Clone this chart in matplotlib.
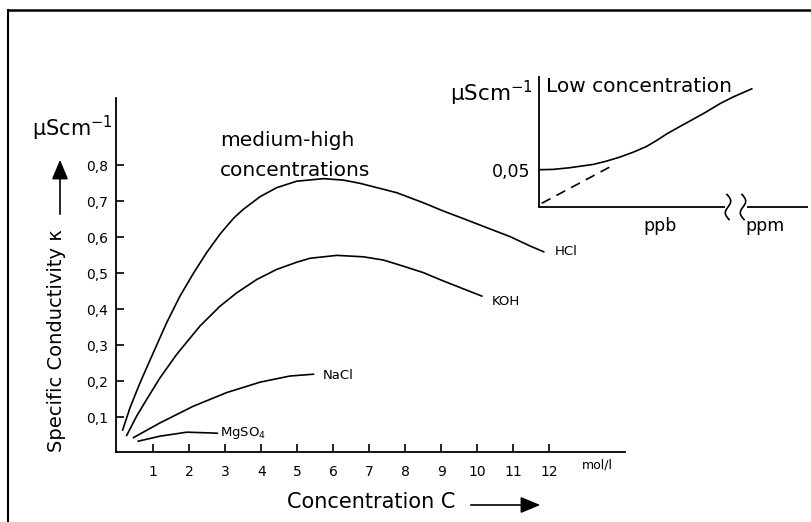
import matplotlib
matplotlib.use("Agg")
import matplotlib.pyplot as plt
import numpy as np
from matplotlib.lines import Line2D

plt.rcParams['font.family'] = ['DejaVu Sans']

# ---- data ----
x_ticks = [1, 2, 3, 4, 5, 6, 7, 8, 9, 10, 11, 12]
y_ticks = [0.1, 0.2, 0.3, 0.4, 0.5, 0.6, 0.7, 0.8]
y_tick_labels = ["0,1", "0,2", "0,3", "0,4", "0,5", "0,6", "0,7", "0,8"]

hcl_c = [0.149, 0.353, 0.631, 1.002, 1.372, 1.743, 2.114, 2.485, 2.855, 3.05, 3.25, 3.504,
         3.968, 4.43, 4.987, 5.728, 6.284, 6.748, 7.767, 8.508, 9.064, 9.62, 10.268,
         10.917, 11.473, 11.85]
hcl_k = [0.065, 0.127, 0.196, 0.280, 0.363, 0.437, 0.500, 0.558, 0.609, 0.632, 0.655, 0.678,
         0.713, 0.738, 0.756, 0.763, 0.759, 0.750, 0.724, 0.696, 0.673, 0.652, 0.627,
         0.602, 0.576, 0.560]

koh_c = [0.26, 0.54, 0.816, 1.187, 1.65, 2.30, 2.855, 3.32, 3.875, 4.43, 4.987, 5.36,
         6.10, 6.84, 7.397, 7.95, 8.508, 9.06, 9.62, 10.13]
koh_k = [0.05, 0.104, 0.15, 0.21, 0.275, 0.354, 0.409, 0.446, 0.483, 0.511, 0.531, 0.542,
         0.55, 0.546, 0.537, 0.52, 0.502, 0.479, 0.457, 0.437]

nacl_c = [0.45, 1.19, 2.11, 3.04, 3.97, 4.80, 5.45]
nacl_k = [0.044, 0.085, 0.131, 0.169, 0.198, 0.215, 0.22]

mgso4_c = [0.58, 1.19, 1.93, 2.58, 2.78]
mgso4_k = [0.034, 0.048, 0.059, 0.057, 0.056]

# inset (arbitrary units: x 0..1 across the axis, y in µS/cm)
low_x = [0.0, 0.053, 0.115, 0.202, 0.252, 0.301, 0.351, 0.400, 0.437, 0.475, 0.524,
         0.574, 0.623, 0.673, 0.722, 0.791]
low_y = [0.0505, 0.0509, 0.0532, 0.0577, 0.0622, 0.0676, 0.0743, 0.082, 0.090, 0.099,
         0.109, 0.119, 0.129, 0.140, 0.149, 0.160]
ideal_x = [0.01, 0.283]
ideal_y = [0.005, 0.058]

W, H = 812, 522
fig = plt.figure(figsize=(W / 100, H / 100), dpi=100)

def fx(px):
    return px / W

def fy(py):
    return 1 - py / H

# ---- main axes ----
ax = fig.add_axes([fx(116), fy(452), fx(625) - fx(116), fy(98) - fy(452)])
ax.set_xlim(-0.036, 14.11)
ax.set_ylim(0.004, 0.987)
for s in ['top', 'right']:
    ax.spines[s].set_visible(False)
for s in ['left', 'bottom']:
    ax.spines[s].set_linewidth(1.3)

ax.set_xticks(x_ticks)
ax.set_xticklabels([str(v) for v in x_ticks], fontsize=10)
ax.set_yticks(y_ticks)
ax.set_yticklabels(y_tick_labels, fontsize=10)
ax.tick_params(axis='x', direction='in', length=6, width=1.2, pad=9)
ax.tick_params(axis='y', direction='in', length=6, width=1.2, pad=6)

lw = 1.2
ax.plot(hcl_c, hcl_k, color='black', lw=lw)
ax.plot(koh_c, koh_k, color='black', lw=lw)
ax.plot(nacl_c, nacl_k, color='black', lw=lw)
ax.plot(mgso4_c, mgso4_k, color='black', lw=lw)

ax.text(12.15, 0.56, "HCl", fontsize=9.5, va='center', ha='left')
ax.text(10.42, 0.423, "KOH", fontsize=9.5, va='center', ha='left')
ax.text(5.72, 0.217, "NaCl", fontsize=9.5, va='center', ha='left')
ax.text(2.86, 0.057, r"MgSO$_\mathregular{4}$", fontsize=9.5, va='center', ha='left')

ax.text(13.34, -0.018, "mol/l", fontsize=9, ha='center', va='top',
        transform=ax.get_xaxis_transform())

# titles / labels
fig.text(fx(220), fy(140), "medium-high", fontsize=14.5, va='center', ha='left')
fig.text(fx(220), fy(170), "concentrations", fontsize=14.5, va='center', ha='left')

fig.text(fx(32), fy(128), r"µScm$^{\mathregular{-1}}$", fontsize=15, va='center', ha='left')
fig.text(fx(57), fy(341), "Specific Conductivity κ", fontsize=14, rotation=90,
         va='center', ha='center')
fig.add_artist(matplotlib.patches.FancyArrowPatch((fx(60), fy(217)), (fx(60), fy(157)),
               transform=fig.transFigure, arrowstyle='-|>,head_length=0.6,head_width=0.25',
               mutation_scale=20, color='black', lw=1.2))

fig.text(fx(455), fy(502), "Concentration C", fontsize=15, va='center', ha='right')
fig.add_artist(matplotlib.patches.FancyArrowPatch((fx(468), fy(505)), (fx(543), fy(505)),
               transform=fig.transFigure, arrowstyle='-|>,head_length=0.6,head_width=0.25',
               mutation_scale=20, color='black', lw=1.2))

# ---- inset ----
ins = fig.add_axes([fx(539), fy(207), fx(808) - fx(539), fy(77) - fy(207)])
ins.set_xlim(0, 1)
ins.set_ylim(0, 0.176)
for s in ['top', 'right', 'bottom']:
    ins.spines[s].set_visible(False)
ins.spines['left'].set_linewidth(1.3)
ins.set_xticks([0.45, 0.84])
ins.set_xticklabels(["ppb", "ppm"], fontsize=12.5)
ins.set_yticks([0.05])
ins.set_yticklabels(["0,05"], fontsize=12.5)
ins.tick_params(length=0, pad=7)
ins.tick_params(axis='y', pad=6)
ins.patch.set_alpha(0)

ins.plot(low_x, low_y, color='black', lw=lw)
ins.plot(ideal_x, ideal_y, color='black', lw=lw, dashes=(6, 4))

# broken x axis
gap0 = (725 - 539) / 269
gap1 = (747 - 539) / 269
ins.plot([0, gap0], [0, 0], color='black', lw=1.3, clip_on=False, solid_capstyle='butt')
ins.plot([gap1, 1], [0, 0], color='black', lw=1.3, clip_on=False, solid_capstyle='butt')
t = np.linspace(-1, 1, 40)
for xc in [(728 - 539) / 269, (743 - 539) / 269]:
    ins.plot(xc + 0.012 * np.sin(np.pi * t) - 0.004 * t, 0.017 * t,
             color='black', lw=1.2, clip_on=False)

ins.text(0.025, 0.93, "Low concentration", fontsize=14.5, transform=ins.transAxes,
         va='center', ha='left')
fig.text(fx(533), fy(93), r"µScm$^{\mathregular{-1}}$", fontsize=15.5, va='center', ha='right')

# frame (left and top border)
fig.add_artist(Line2D([fx(8), fx(8)], [fy(10), 0], color='black', lw=1.5))
fig.add_artist(Line2D([fx(8), 1], [fy(9.5), fy(9.5)], color='black', lw=1.8))

fig.savefig("out.png", dpi=100)
